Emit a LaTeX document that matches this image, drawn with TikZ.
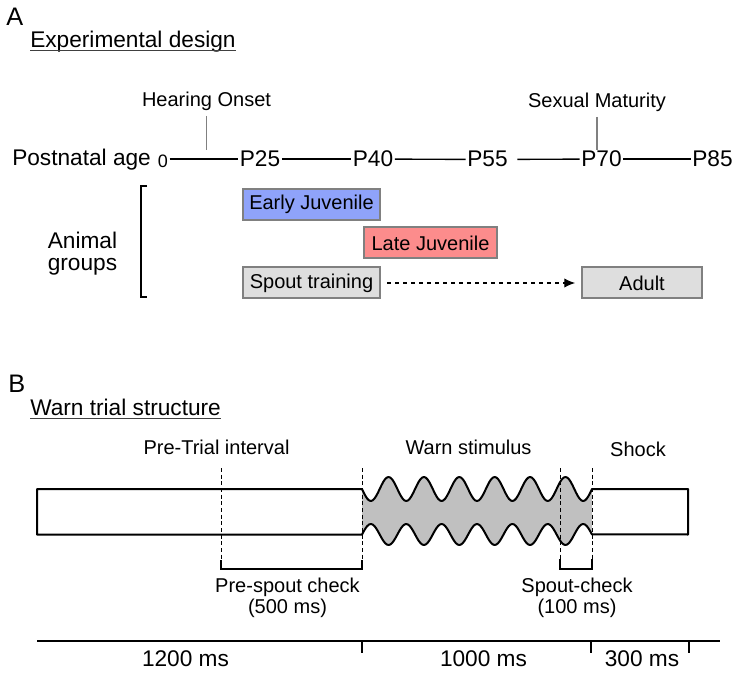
\documentclass[tikz,border=0pt]{standalone}
\usepackage{fontspec}
\setmainfont{Liberation Sans}
\usetikzlibrary{arrows.meta}
\definecolor{earlyblue}{RGB}{143,163,250}
\definecolor{latepink}{RGB}{252,140,140}
\definecolor{boxgray}{RGB}{222,222,222}
\definecolor{edgegray}{RGB}{128,128,128}
\definecolor{wavegray}{RGB}{192,192,192}
\newcommand{\bigtxt}{\fontsize{17}{17}\selectfont}
\newcommand{\smalltxt}{\fontsize{15}{16}\selectfont}
\newcommand{\paneltxt}{\fontsize{19}{21}\selectfont}

\begin{document}
\begin{tikzpicture}[x=0.75pt, y=-0.75pt,
    agetick/.style={inner sep=1pt, font=\bigtxt, anchor=base},
    grpbox/.style={draw=edgegray, line width=1.5pt, minimum height=23.25pt, inner sep=0pt, font=\smalltxt},
    ageline/.style={line width=1.1pt},
    marktick/.style={draw=edgegray, line width=1.1pt},
    guide/.style={line width=0.6pt, dash pattern=on 3pt off 2pt},
    brk/.style={line width=1.5pt},
    uline/.style={line width=0.8pt, draw=black!75}]
	  \useasboundingbox (0,0) rectangle (739,673);

	  %% A: experimental design
	  \node[anchor=base west, inner sep=0pt, font=\paneltxt] (lblA) at (6,26) {A};
	  \node[anchor=base west, inner sep=0pt, font=\bigtxt] (expdesign) at (30,48) {Experimental design};
	  \draw[uline] ([yshift=-2pt]expdesign.base west) -- ([yshift=-2pt]expdesign.base east);

	  \node[anchor=base west, inner sep=0pt, font=\bigtxt] (agelbl) at (12,166) {Postnatal age};
	  \node[anchor=base, inner sep=1pt, font=\fontsize{13.5}{15}\selectfont] (a0) at (163,168) {0};
	  \node[agetick] (p25) at (260,167) {P25};
	  \node[agetick] (p40) at (373,167) {P40};
	  \node[agetick] (p55) at (487.5,167) {P55};
	  \node[agetick] (p70) at (601.5,167) {P70};
	  \node[agetick] (p85) at (712.5,167) {P85};
	  \draw[ageline] (a0.east |- p25.west) -- (p25.west);
	  \draw[ageline] (p25) -- (p40);
	  \draw[ageline] (p40) -- (p55);
	  \draw[ageline, shorten <=6pt] (p55) -- (p70);
	  \draw[ageline] (p70) -- (p85);

	  \node[anchor=base, font=\smalltxt] (onset) at (206.5,107) {Hearing Onset};
	  \node[anchor=base, font=\smalltxt] (sexmat) at (597,108) {Sexual Maturity};
	  \draw[marktick] (onset.south) -- (onset.south |- p25.north);
	  \draw[marktick] (sexmat.south) -- (sexmat.south |- p70.north);

	  %% animal groups
	  \draw[brk] (147,186) -- (140.5,186) -- (140.5,297) -- (147,297);
	  \node[align=center, font=\bigtxt] (groups) at (82.5,253.5) {Animal\\groups};
	  \node[grpbox, fill=earlyblue, minimum width=102.75pt] (early) at (311.5,204.5) {Early Juvenile};
	  \node[grpbox, fill=latepink, minimum width=99.75pt] (late) at (430.5,243) {Late Juvenile};
	  \node[grpbox, fill=boxgray, minimum width=102.75pt] (spout) at (311.5,283) {Spout training};
	  \node[grpbox, fill=boxgray, minimum width=90pt] (adult) at (642,283) {Adult};
	  \draw[line width=0.8pt, dash pattern=on 3pt off 3pt, -{Latex[length=8pt,width=7pt]}, shorten <=4.5pt, shorten >=4.5pt] (spout) -- (adult);

	  %% B: warn trial structure
	  \node[anchor=base west, inner sep=0pt, font=\paneltxt] (lblB) at (8,393) {B};
	  \node[anchor=base west, inner sep=0pt, font=\bigtxt] (warntitle) at (30,416) {Warn trial structure};
	  \draw[uline] ([yshift=-2pt]warntitle.base west) -- ([yshift=-2pt]warntitle.base east);

	  \node[anchor=base, font=\smalltxt] (pretrial) at (216.5,455) {Pre-Trial interval};
	  \node[anchor=base, font=\smalltxt] (warnstim) at (468.5,455) {Warn stimulus};
	  \node[anchor=base, font=\smalltxt] (shock) at (638,456) {Shock};

	  \fill[wavegray] plot[domain=0:6.5, samples=131, variable=\t] ({362+\t*35.3846},{489+12*sin(\t*360)})
	    -- plot[domain=6.5:0, samples=131, variable=\t] ({362+\t*35.3846},{534.5-10.5*sin(\t*360)}) -- cycle;
	  \draw[line width=1.5pt, line join=round] (362,489) -- (37,489) -- (37,534.5) -- (362,534.5)
	    -- plot[domain=0:6.5, samples=131, variable=\t] ({362+\t*35.3846},{534.5-10.5*sin(\t*360)})
	    -- (688,534.5) -- (688,489) -- (592,489)
	    -- plot[domain=6.5:0, samples=131, variable=\t] ({362+\t*35.3846},{489+12*sin(\t*360)}) -- cycle;
	  \foreach \gx in {221,362,560,592}
	    \draw[guide] (\gx,468) -- (\gx,560);
	  \draw[brk] (221,560) -- (221,568.5) -- (362,568.5) -- (362,560);
	  \draw[brk] (560,559) -- (560,568.5) -- (592,568.5) -- (592,559);
	  \node[align=center, font=\smalltxt] (prespout) at (287.5,597.5) {Pre-spout check\\(500 ms)};
	  \node[align=center, font=\smalltxt] (spoutchk) at (577,597.5) {Spout-check\\(100 ms)};

	  %% time line
	  \draw[line width=1.1pt] (37,641) -- (720,641);
	  \foreach \tx in {362,591,689}
	    \draw[line width=1.5pt] (\tx,641) -- (\tx,653);
	  \node[anchor=base, font=\bigtxt] (ms1200) at (185.5,666) {1200 ms};
	  \node[anchor=base, font=\bigtxt] (ms1000) at (483.5,666) {1000 ms};
	  \node[anchor=base, font=\bigtxt] (ms300) at (642,666) {300 ms};
	\end{tikzpicture}
\end{document}
